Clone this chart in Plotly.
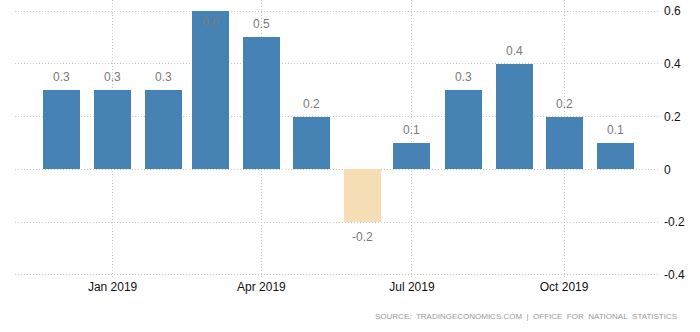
import plotly.graph_objects as go

months = ["2018-12-01", "2019-01-01", "2019-02-01", "2019-03-01", "2019-04-01", "2019-05-01",
          "2019-06-01", "2019-07-01", "2019-08-01", "2019-09-01", "2019-10-01", "2019-11-01"]
values = [0.3, 0.3, 0.3, 0.6, 0.5, 0.2, -0.2, 0.1, 0.3, 0.4, 0.2, 0.1]
tick_dates = ["2019-01-01", "2019-04-01", "2019-07-01", "2019-10-01"]
tick_labels = ["Jan 2019", "Apr 2019", "Jul 2019", "Oct 2019"]
y_ticks = [-0.4, -0.2, 0, 0.2, 0.4, 0.6]
y_tick_labels = ["-0.4", "-0.2", "0", "0.2", "0.4", "0.6"]
source_text = "SOURCE: TRADINGECONOMICS.COM | OFFICE FOR NATIONAL STATISTICS"

pos_color = "#4682B4"
neg_color = "#F5DEB3"
colors = [pos_color if v >= 0 else neg_color for v in values]
y_top = 0.6418

fig = go.Figure()
fig.add_trace(go.Bar(
    x=months, y=values, marker_color=colors, marker_line_width=0,
    width=[22.4 * 86400000] * len(values), hoverinfo="skip",
))

for m, v in zip(months, values):
    if v >= 0:
        shift = 13 if v + 20 / 264 < y_top else -11
    else:
        shift = -15
    fig.add_annotation(x=m, y=v, text=f"{v:g}", showarrow=False, yshift=shift,
                       font=dict(family="Liberation Sans, Arial", size=12, color="#7a7a7a"))

fig.add_annotation(xref="paper", yref="paper", x=1.0295, y=-0.137, xanchor="right", yanchor="middle",
                   text=source_text.replace(" ", "&nbsp;&nbsp;"), showarrow=False,
                   font=dict(family="Liberation Sans, Arial", size=8, color="#9a9a9a"))

grid_dash = "1px,2px"
fig.update_layout(
    width=700, height=332,
    margin=dict(l=15, r=40, t=0, b=54),
    plot_bgcolor="white", paper_bgcolor="white",
    showlegend=False, bargap=0,
    xaxis=dict(
        type="date", range=["2018-11-03", "2019-11-28"],
        tickvals=tick_dates, ticktext=tick_labels,
        showgrid=True, gridcolor="#c8c8c8", griddash=grid_dash, gridwidth=1,
        zeroline=False, showline=False, ticks="",
        tickfont=dict(family="Liberation Sans, Arial", size=12, color="#111"),
    ),
    yaxis=dict(
        side="right", range=[-0.4114, y_top],
        tickvals=y_ticks, ticktext=y_tick_labels,
        showgrid=True, gridcolor="#c8c8c8", griddash=grid_dash, gridwidth=1,
        zeroline=False, showline=False, ticks="", ticklabelstandoff=3,
        tickfont=dict(family="Liberation Sans, Arial", size=12, color="#111"),
    ),
)

fig.write_html("out.html")
